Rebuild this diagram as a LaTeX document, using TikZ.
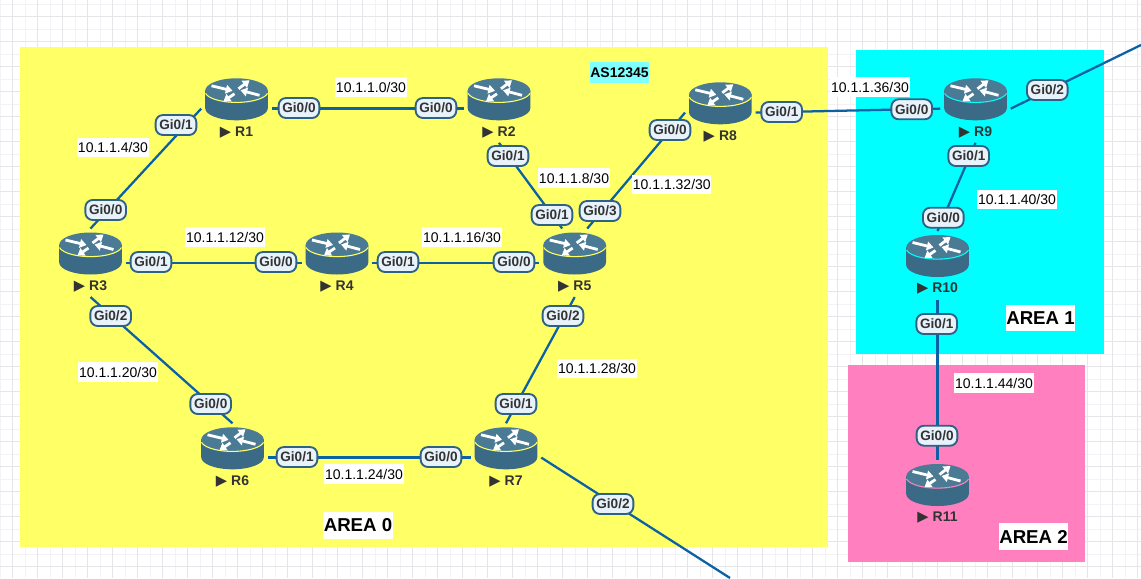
\documentclass[tikz,border=0pt]{standalone}
\usepackage{fontspec}
\setmainfont{Liberation Sans}
\newfontfamily\symf{DejaVu Sans}
\usetikzlibrary{arrows.meta}
\definecolor{zoneY}{HTML}{FFFF66}
\definecolor{zoneC}{HTML}{00FFFF}
\definecolor{zoneP}{HTML}{FF7FBF}
\definecolor{zoneA}{HTML}{80FFFF}
\definecolor{linkblue}{HTML}{0A62A5}
\definecolor{gifill}{HTML}{E8F2FB}
\definecolor{giedge}{HTML}{2F6185}
\definecolor{rtop}{HTML}{4A7A94}
\definecolor{rbody}{HTML}{3A6A86}
\definecolor{darktx}{HTML}{333333}
\definecolor{grmaj}{HTML}{E6E6EA}
\definecolor{grmin}{HTML}{F3F3F7}
\tikzset{
 x=0.75pt,y=-0.75pt,
 rnode/.style={rectangle,minimum width=52.5pt,minimum height=51pt,inner sep=0pt},
 rname/.style={text=darktx,font=\fontsize{10.5}{12}\selectfont\bfseries,inner sep=0pt},
 ricon/.style={white,line width=2.1pt,-{Triangle[width=6.5pt,length=5pt]}},
 gi/.style={draw=giedge,line width=1.4pt,fill=gifill,rounded corners=5.5pt,text=darktx,
   font=\fontsize{10.2}{12}\selectfont\bfseries,inner xsep=0pt,inner ysep=0pt,minimum width=30.5pt,minimum height=15pt},
 link/.style={draw=linkblue,line width=1.7pt},
 net/.style={fill=white,text=black,font=\fontsize{10.5}{12}\selectfont,inner xsep=0.5pt,inner ysep=0pt,minimum height=14.5pt},
 area/.style={fill=white,text=black,font=\fontsize{14}{16}\selectfont\bfseries,inner xsep=0.5pt,inner ysep=0pt,minimum height=20pt},
}
\newcommand{\router}[4]{% name, cx, top, rim colour
  \node[rnode] (#1) at (#2,#3+30.3) {};
  \fill[rbody] (#2-31.3,#3+12) -- (#2-31.3,#3+30) arc[start angle=180,end angle=360,x radius=31.3,y radius=-12] -- (#2+31.3,#3+12) -- cycle;
  \fill[rtop] (#2,#3+12.5) ellipse[x radius=31.3,y radius=12.5];
  \draw[line width=0.8pt,color=#4] (#2-31,#3+15) arc[start angle=190,end angle=350,x radius=31.5,y radius=-11];
  \begin{scope}[shift={(#2,#3+12.5)}]
    \draw[ricon] (-25,-5) -- (-4,0);
    \draw[ricon] (2,-2) -- (13,-10.5);
    \draw[ricon] (-2,3) -- (-13,10.5);
    \draw[ricon] (23,4.5) -- (4,-0.5);
  \end{scope}
  \node[rname] (#1t) at (#2,#3+54) {{\symf\fontsize{11}{12}\selectfont\mdseries ▶}\hspace{3pt}#1};
}
\begin{document}
\begin{tikzpicture}
\useasboundingbox (0,0) rectangle (1141,578);
\fill[white] (0,0) rectangle (1141,578);
% grid
\foreach \k in {0,...,45}{\draw[grmin,line width=0.75pt] (25*\k,0) -- (25*\k,578);}
\foreach \k in {0,...,23}{\draw[grmin,line width=0.75pt] (0,4.2+25*\k) -- (1141,4.2+25*\k);}
\foreach \k in {0,...,45}{\draw[grmaj,line width=0.75pt] (12.5+25*\k,0) -- (12.5+25*\k,578);}
\foreach \k in {0,...,23}{\draw[grmaj,line width=0.75pt] (0,16.7+25*\k) -- (1141,16.7+25*\k);}
% zones
\fill[zoneY] (20,47) rectangle (828,547);
\fill[zoneC] (856,50) rectangle (1104,354);
\fill[zoneP] (848,365) rectangle (1085,562);
% routers
\router{R1}{236.5}{78.3}{zoneY}
\router{R2}{499}{78.3}{zoneY}
\router{R8}{720.3}{82.3}{zoneY}
\router{R9}{975.5}{78.3}{zoneC}
\router{R3}{90.5}{232.5}{zoneY}
\router{R4}{337}{232.5}{zoneY}
\router{R5}{574.7}{232.5}{zoneY}
\router{R6}{232.5}{427.3}{zoneY}
\router{R7}{506}{427.3}{zoneY}
\router{R10}{937.5}{235}{zoneC}
\router{R11}{937.5}{464}{zoneP}
\coordinate (endNE) at (1141,45);
\coordinate (endS) at (730,578);
% connectors
\draw[link] (R1.west) -- (R3.north);
\draw[link] (R1.east) -- (R2.west);
\draw[link] (R3.east) -- (R4.west);
\draw[link] (R4.east) -- (R5.west);
\draw[link] (R2.south) -- ([xshift=-9.4pt]R5.north);
\draw[link] ([xshift=9.4pt]R5.north) -- (R8.west);
\draw[link] (R3.south) -- (R6.north);
\draw[link] (R6.east) -- (R7.west);
\draw[link] (R5.south) -- (R7.north);
\draw[link] (R8.east) -- (R9.west);
\draw[link] (R9.south) -- (R10.north);
\draw[link] (R10.south) -- (R11.north);
\draw[link] (R9.east) -- (endNE);
\draw[link] (R7.east) -- (endS);
% interface labels
\node[gi] (a1) at (176,125) {Gi0/1};
\node[gi] (a2) at (105.7,210) {Gi0/0};
\node[gi] (b1) at (299,108) {Gi0/0};
\node[gi] (b2) at (436,108) {Gi0/0};
\node[gi] (c1) at (151,262) {Gi0/1};
\node[gi] (c2) at (276,262) {Gi0/0};
\node[gi] (d1) at (398,262) {Gi0/1};
\node[gi] (d2) at (514,262) {Gi0/0};
\node[gi] (e1) at (508,156) {Gi0/1};
\node[gi] (e2) at (552,215) {Gi0/1};
\node[gi] (f1) at (600,211) {Gi0/3};
\node[gi] (f2) at (670,130) {Gi0/0};
\node[gi] (g1) at (110.7,316) {Gi0/2};
\node[gi] (g2) at (210.7,404) {Gi0/0};
\node[gi] (h1) at (297,457) {Gi0/1};
\node[gi] (h2) at (441,457) {Gi0/0};
\node[gi] (i1) at (563,316) {Gi0/2};
\node[gi] (i2) at (516,404) {Gi0/1};
\node[gi] (j1) at (781.7,112) {Gi0/1};
\node[gi] (j2) at (911.7,109.3) {Gi0/0};
\node[gi] (k1) at (968.7,156) {Gi0/1};
\node[gi] (k2) at (943.3,217.7) {Gi0/0};
\node[gi] (l1) at (936.7,324) {Gi0/1};
\node[gi] (l2) at (937,435.7) {Gi0/0};
\node[gi] (m1) at (1047.3,90) {Gi0/2};
\node[gi] (n1) at (613,504) {Gi0/2};
% networks
\node[net] (n01) at (371,87) {10.1.1.0/30};
\node[net] (n02) at (113,147.3) {10.1.1.4/30};
\node[net] (n03) at (574,178) {10.1.1.8/30};
\node[net] (n04) at (225,237) {10.1.1.12/30};
\node[net] (n05) at (462,237) {10.1.1.16/30};
\node[net] (n06) at (118,372) {10.1.1.20/30};
\node[net] (n07) at (364,474) {10.1.1.24/30};
\node[net] (n08) at (597,368.5) {10.1.1.28/30};
\node[net] (n09) at (671.8,184.3) {10.1.1.32/30};
\node[net] (n10) at (870,87) {10.1.1.36/30};
\node[net] (n11) at (1017,199.5) {10.1.1.40/30};
\node[net] (n12) at (994,383) {10.1.1.44/30};
\node[area] (z0) at (358,525.5) {AREA 0};
\node[area] (z1) at (1040.5,318) {AREA 1};
\node[area] (z2) at (1033.5,536.5) {AREA 2};
\node[fill=zoneA,text=black,font=\fontsize{10.5}{12}\selectfont\bfseries,inner xsep=0.3pt,inner ysep=0pt,minimum height=15.75pt] (as) at (619.5,72.5) {AS12345};
\end{tikzpicture}
\end{document}
